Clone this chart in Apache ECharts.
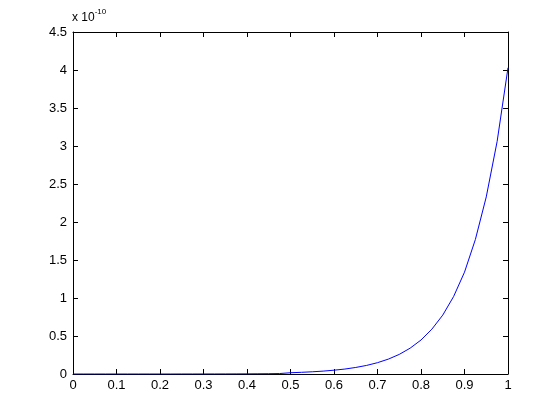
<!DOCTYPE html>
<html><head><meta charset="utf-8">
<script src="https://cdn.jsdelivr.net/npm/echarts@6/dist/echarts.min.js"></script>
<style>html,body{margin:0;padding:0;background:#fff}#c{width:560px;height:420px}</style>
</head><body><div id="c"></div>
<script>
// x samples
const xValues = [0,0.025,0.05,0.075,0.1,0.125,0.15,0.175,0.2,0.225,0.25,0.275,0.3,0.325,0.35,0.375,0.4,0.425,0.45,0.475,0.5,0.525,0.55,0.575,0.6,0.625,0.65,0.675,0.7,0.725,0.75,0.775,0.8,0.825,0.85,0.875,0.9,0.925,0.95,0.975,1];
// y values in units of 1e-10
const yValues = [0,0,0,0,0,0,0,0,0,0,0.0003,0.0004,0.0005,0.0008,0.001,0.0015,0.002,0.003,0.004,0.006,0.0165,0.022,0.029,0.038,0.05,0.065,0.086,0.113,0.149,0.196,0.258,0.34,0.447,0.59,0.775,1.02,1.34,1.77,2.33,3.06,4.03];
const xTickLabels = ['0','0.1','0.2','0.3','0.4','0.5','0.6','0.7','0.8','0.9','1'];
const yTickLabels = ['0','0.5','1','1.5','2','2.5','3','3.5','4','4.5'];
const exponentLabel = '-10';

const font = 'Liberation Sans, Arial, Helvetica, sans-serif';
const chart = echarts.init(document.getElementById('c'), null, {renderer:'canvas'});
const tickStyle = {show:true, inside:true, length:5, lineStyle:{color:'#000', width:1}};
const lineStyle = {show:true, onZero:false, lineStyle:{color:'#000', width:1}};
chart.setOption({
  animation:false,
  backgroundColor:'#fff',
  grid:{left:73, right:52, top:32, bottom:46, show:false},
  xAxis:[{
    type:'value', min:0, max:1, interval:0.1, position:'bottom',
    axisLine:lineStyle, axisTick:tickStyle, splitLine:{show:false},
    axisLabel:{color:'#000', fontSize:13, fontFamily:font, margin:5,
      formatter:(v)=>xTickLabels[Math.round(v*10)]}
  },{
    type:'value', min:0, max:1, interval:0.1, position:'top',
    axisLine:lineStyle, axisTick:tickStyle, splitLine:{show:false}, axisLabel:{show:false}
  }],
  yAxis:[{
    type:'value', min:0, max:4.5, interval:0.5, position:'left',
    axisLine:lineStyle, axisTick:tickStyle, splitLine:{show:false},
    axisLabel:{color:'#000', fontSize:13, fontFamily:font, margin:6,
      formatter:(v)=>yTickLabels[Math.round(v*2)]}
  },{
    type:'value', min:0, max:4.5, interval:0.5, position:'right',
    axisLine:lineStyle, axisTick:tickStyle, splitLine:{show:false}, axisLabel:{show:false}
  }],
  graphic:[{
    type:'text', left:72, top:8,
    style:{
      text:'{a|x 10}{b|' + exponentLabel + '}',
      rich:{
        a:{fontSize:12, fontFamily:font, fill:'#000', verticalAlign:'bottom', lineHeight:16},
        b:{fontSize:8, fontFamily:font, fill:'#000', verticalAlign:'top', lineHeight:16, padding:[0,0,10,0]}
      }
    }
  }],
  series:[{
    type:'line', xAxisIndex:0, yAxisIndex:0,
    data:xValues.map((x,i)=>[x,yValues[i]]),
    showSymbol:false, symbol:'none',
    lineStyle:{color:'#0000ff', width:1}
  }]
});
</script></body></html>
